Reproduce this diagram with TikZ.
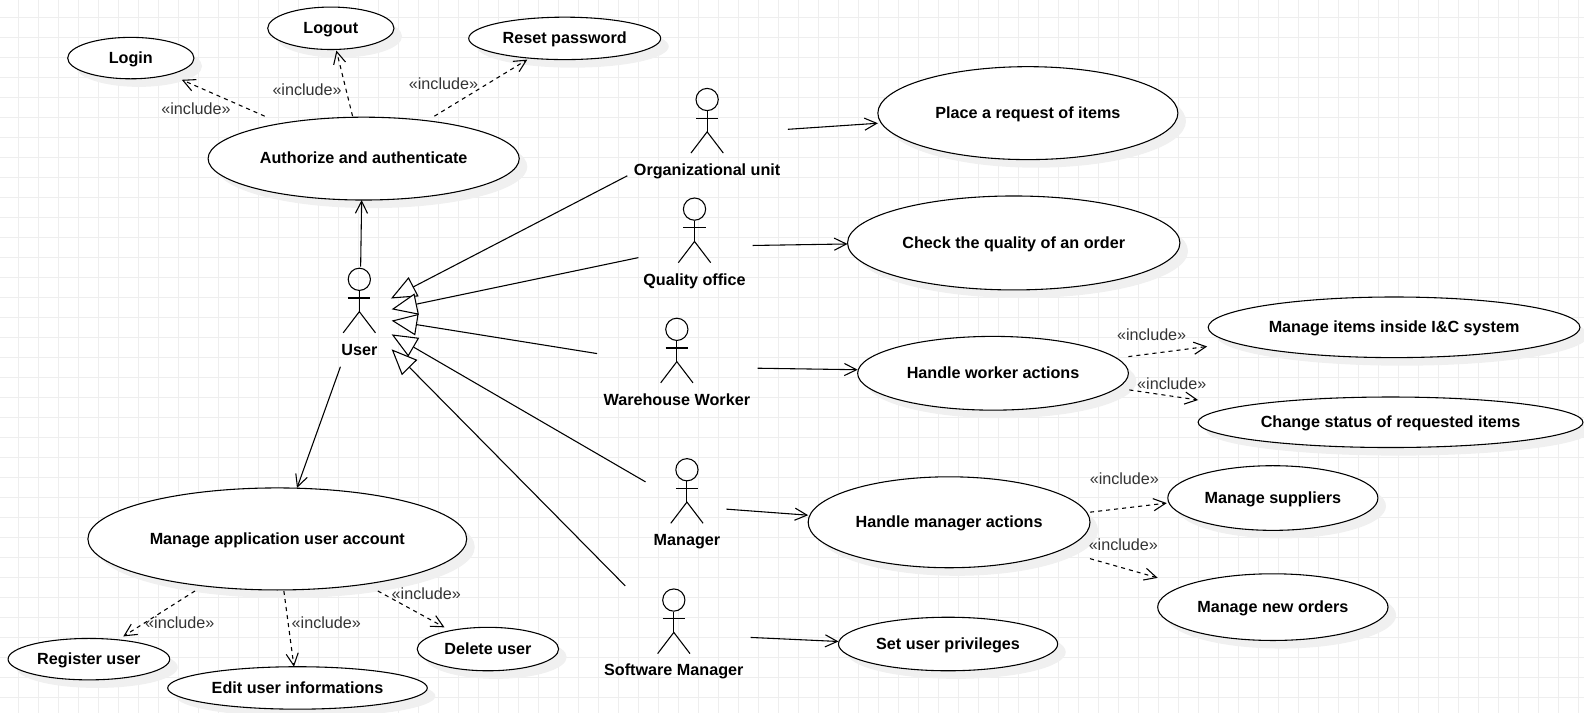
\documentclass[tikz,border=0pt]{standalone}
\usepackage{fontspec}
\setmainfont{Liberation Sans}
\usetikzlibrary{arrows.meta,shapes.geometric,shadows}
\definecolor{gridcol}{HTML}{EEEEEE}
\definecolor{inclcol}{HTML}{333333}
\begin{document}
\begin{tikzpicture}[x=.75pt,y=-.75pt,line width=.8pt,
  use case/.style 2 args={ellipse,draw,fill=white,inner sep=0pt,font=\bfseries\fontsize{12}{14}\selectfont,
    text height=10pt,text depth=2pt,
    minimum width=#1*.75pt,minimum height=#2*.75pt,
    drop shadow={shadow xshift=6pt,shadow yshift=-6pt,fill=black!6,opacity=1}},
  actor name/.style={font=\bfseries\fontsize{12}{14}\selectfont,inner sep=0pt,text height=9pt,text depth=2pt},
  incl label/.style={font=\fontsize{12}{14}\selectfont,text=inclcol,inner sep=0pt},
  assoc line/.style={-{Straight Barb[length=9pt,width=9pt]}},
  incl line/.style={assoc line,dash pattern=on 3pt off 3pt},
  gen line/.style={-{Triangle[open,fill=white,length=19pt,width=16pt]}},
  pics/actor/.style={code={
    \node[circle,draw,inner sep=0pt,minimum size=16.5pt] (-head) at (0,0){};
    \draw (-head.south) -- (0,32) (-11,18.5) -- (11,18.5);
    \draw (-16,53) -- (0,32) -- (16,53);
    \node[actor name] (-name) at (0,70.5){#1};
  }}]

  % background grid
  \useasboundingbox (0,0) rectangle (1568,705.8);
  \foreach \gx in {0,...,78} \draw[gridcol] ({18.3+19.8*\gx},0) -- ({18.3+19.8*\gx},705.8);
  \foreach \gy in {0,...,35} \draw[gridcol] (0,{17.4+19.8*\gy}) -- (1568,{17.4+19.8*\gy});

  % use cases, top left
  \node[use case={125}{41}] (login) at (129.5,57.5){Login};
  \node[use case={125}{42}] (logout) at (327.5,28){Logout};
  \node[use case={190}{42}] (reset) at (559,38){Reset password};
  \node[use case={308}{82}] (auth) at (360,157){Authorize and authenticate};

  % use cases, bottom left
  \node[use case={375}{101}] (account) at (274.5,533.5){Manage application user account};
  \node[use case={160}{41}] (register) at (88,652.5){Register user};
  \node[use case={257}{42}] (edit) at (294.5,681){Edit user informations};
  \node[use case={140}{43}] (delete) at (483,642.5){Delete user};

  % use cases, right
  \node[use case={297}{92}] (request) at (1017.5,112){Place a request of items};
  \node[use case={329}{93}] (quality) at (1003.5,240.5){Check the quality of an order};
  \node[use case={268}{73}] (worker) at (983,369.5){Handle worker actions};
  \node[use case={368}{60}] (items) at (1380,324){Manage items inside I\&C system};
  \node[use case={381}{50}] (status) at (1376.5,418){Change status of requested items};
  \node[use case={279}{90}] (manager) at (939.5,517){Handle manager actions};
  \node[use case={208}{64}] (suppliers) at (1260,493){Manage suppliers};
  \node[use case={228}{66}] (orders) at (1260,601){Manage new orders};
  \node[use case={217}{53}] (privileges) at (938.5,637.5){Set user privileges};

  % actors
  \pic (usr) at (355.7,276.5) {actor={User}};
  \pic (unit) at (700,98.5) {actor={Organizational unit}};
  \pic (office) at (687.5,207) {actor={Quality office}};
  \pic (wh) at (670,326) {actor={Warehouse Worker}};
  \pic (mgr) at (680,465) {actor={Manager}};
  \pic (sw) at (667,594) {actor={Software Manager}};

  % free ends of the connectors
  \coordinate (usrUp) at (357,264);
  \coordinate (usrDown) at (337,363);
  \coordinate (authTo) at (358,198);
  \coordinate (accountTo) at (294,483);
  \coordinate (unitOut) at (780,128);
  \coordinate (officeOut) at (745,243);
  \coordinate (whOut) at (750,364.5);
  \coordinate (mgrOut) at (719,504);
  \coordinate (swOut) at (743,631);
  \coordinate (requestIn) at (869,122);
  \coordinate (qualityIn) at (839,241.5);
  \coordinate (workerIn) at (849,366);
  \coordinate (managerIn) at (800,510);
  \coordinate (privilegesIn) at (830,635);
  \coordinate (unitGen) at (621,174);
  \coordinate (officeGen) at (632,255);
  \coordinate (whGen) at (591,350);
  \coordinate (mgrGen) at (639,477);
  \coordinate (swGen) at (619,580);
  \coordinate (tipA) at (387,295.5);
  \coordinate (tipB) at (387.7,306.2);
  \coordinate (tipC) at (387.7,317.4);
  \coordinate (tipD) at (387.7,331);
  \coordinate (tipE) at (387.7,345.8);
  \coordinate (authA) at (262,115);
  \coordinate (authB) at (349,115);
  \coordinate (authC) at (430,115);
  \coordinate (loginIn) at (180,79);
  \coordinate (logoutIn) at (333,50);
  \coordinate (resetIn) at (522,59);
  \coordinate (accountA) at (193,585);
  \coordinate (accountB) at (281,585);
  \coordinate (accountC) at (374,585);
  \coordinate (registerIn) at (122,630);
  \coordinate (editIn) at (291,660);
  \coordinate (deleteIn) at (440,621);
  \coordinate (workerA) at (1117,353);
  \coordinate (workerB) at (1118,386);
  \coordinate (itemsIn) at (1195,343);
  \coordinate (statusIn) at (1186,396);
  \coordinate (managerA) at (1079,507);
  \coordinate (managerB) at (1079,553);
  \coordinate (suppliersIn) at (1155,498);
  \coordinate (ordersIn) at (1146,572);

  \path[assoc line]
    (usrUp) edge (authTo)
    (usrDown) edge (accountTo)
    (unitOut) edge (requestIn)
    (officeOut) edge (qualityIn)
    (whOut) edge (workerIn)
    (mgrOut) edge (managerIn)
    (swOut) edge (privilegesIn);

  \path[gen line]
    (unitGen) edge (tipA)
    (officeGen) edge (tipB)
    (whGen) edge (tipC)
    (mgrGen) edge (tipD)
    (swGen) edge (tipE);

  \path[incl line]
    (authA) edge (loginIn)
    (authB) edge (logoutIn)
    (authC) edge (resetIn)
    (accountA) edge (registerIn)
    (accountB) edge (editIn)
    (accountC) edge (deleteIn)
    (workerA) edge (itemsIn)
    (workerB) edge (statusIn)
    (managerA) edge (suppliersIn)
    (managerB) edge (ordersIn);

  % include labels
  \node[incl label] (l1) at (194,108){«include»};
  \node[incl label] (l2) at (304,89){«include»};
  \node[incl label] (l3) at (439,83){«include»};
  \node[incl label] (l4) at (178,616.5){«include»};
  \node[incl label] (l5) at (323,616.5){«include»};
  \node[incl label] (l6) at (422,588){«include»};
  \node[incl label] (l7) at (1140,331.5){«include»};
  \node[incl label] (l8) at (1160,380){«include»};
  \node[incl label] (l9) at (1113,474){«include»};
  \node[incl label] (l10) at (1112,539.5){«include»};
\end{tikzpicture}
\end{document}
